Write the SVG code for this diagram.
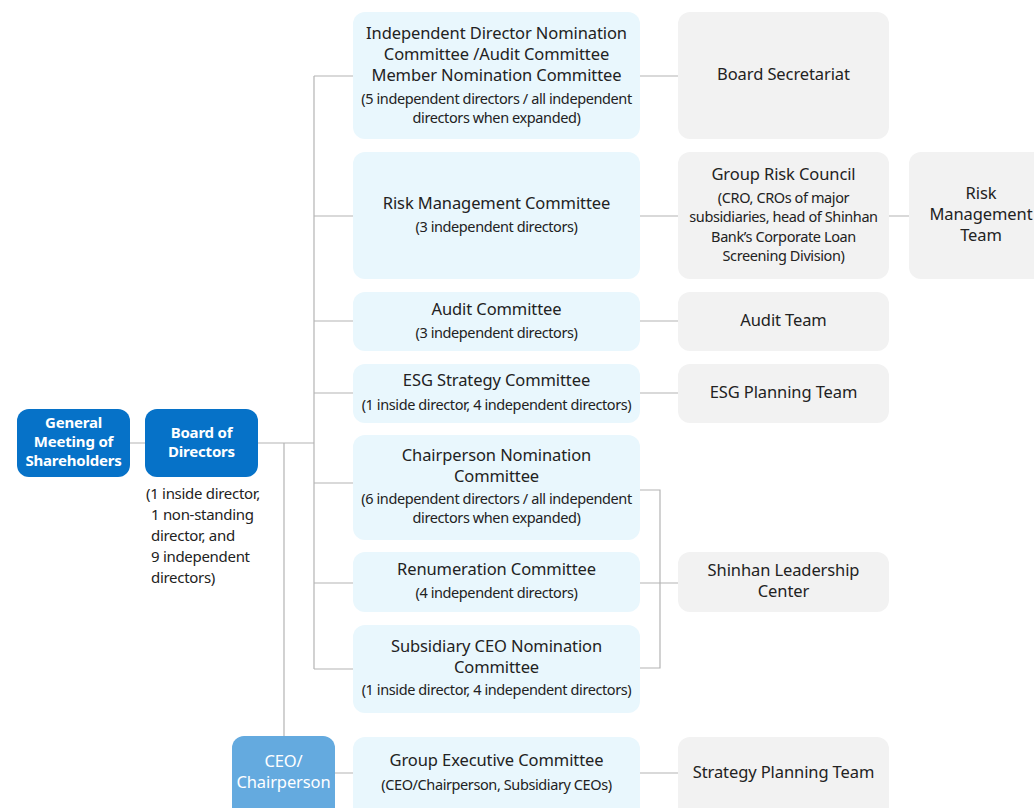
<svg xmlns="http://www.w3.org/2000/svg" width="1034" height="808" viewBox="0 0 1034 808">
<style>
.c{fill:#e9f7fd}
.g{fill:#f2f2f2}
.b{fill:#0672c8}
.t{font-family:"Noto Sans","Liberation Sans",sans-serif;font-size:16.5px;fill:#222;text-anchor:middle;letter-spacing:-0.1px}
.s{font-family:"Noto Sans","Liberation Sans",sans-serif;font-size:14.5px;fill:#222;text-anchor:middle;letter-spacing:-0.4px}
.w{font-family:"Noto Sans","Liberation Sans",sans-serif;font-size:15px;font-weight:bold;fill:#fff;text-anchor:middle;letter-spacing:-0.2px}
.n{font-family:"Noto Sans","Liberation Sans",sans-serif;font-size:15px;fill:#222;letter-spacing:-0.3px}
.ln{stroke:#b4b4b4;stroke-width:1.2;fill:none}
</style>
<rect width="1034" height="808" fill="#fff"/>
<g id="connectors" class="ln">
<path d="M130 443H145M258 443H314M314 76V669M284 443V736"/>
<path d="M314 76H353M314 216H353M314 321H353M314 393H353M314 483H353M314 583H353M314 669H353"/>
<path d="M640 76H678M640 216H678M640 321H678M640 393H678M889 216H909"/>
<path d="M640 490H660V668H640M640 583H678"/>
<path d="M335 773H353M640 773H678"/>
</g>
<g id="gm"><rect class="b" x="17" y="409" width="113" height="68" rx="12"/>
<text class="w" x="73.5" y="428">General</text><text class="w" x="73.5" y="447">Meeting of</text><text class="w" x="73.5" y="466">Shareholders</text></g>
<g id="board"><rect class="b" x="145" y="409" width="113" height="68" rx="12"/>
<text class="w" x="201.5" y="438">Board of</text><text class="w" x="201.5" y="457">Directors</text>
<text class="n" x="146" y="499">(1 inside director,</text><text class="n" x="151" y="520">1 non-standing</text><text class="n" x="151" y="541">director, and</text><text class="n" x="151" y="562">9 independent</text><text class="n" x="151" y="583">directors)</text></g>
<g id="ceo"><rect x="232" y="736" width="103" height="90" rx="12" fill="#64aadf"/>
<text class="t" x="283.5" y="767" style="fill:#fff">CEO/</text><text class="t" x="283.5" y="788" style="fill:#fff">Chairperson</text></g>
<g id="c1"><rect class="c" x="353" y="12" width="287" height="127" rx="12"/>
<text class="t" x="496.5" y="39">Independent Director Nomination</text><text class="t" x="496.5" y="60">Committee /Audit Committee</text><text class="t" x="496.5" y="81">Member Nomination Committee</text>
<text class="s" x="496.5" y="104">(5 independent directors / all independent</text><text class="s" x="496.5" y="123">directors when expanded)</text></g>
<g id="c2"><rect class="c" x="353" y="152" width="287" height="127" rx="12"/>
<text class="t" x="496.5" y="209">Risk Management Committee</text><text class="s" x="496.5" y="232">(3 independent directors)</text></g>
<g id="c3"><rect class="c" x="353" y="292" width="287" height="59" rx="12"/>
<text class="t" x="496.5" y="315">Audit Committee</text><text class="s" x="496.5" y="338">(3 independent directors)</text></g>
<g id="c4"><rect class="c" x="353" y="364" width="287" height="59" rx="12"/>
<text class="t" x="496.5" y="386">ESG Strategy Committee</text><text class="s" x="496.5" y="410">(1 inside director, 4 independent directors)</text></g>
<g id="c5"><rect class="c" x="353" y="435" width="287" height="105" rx="12"/>
<text class="t" x="496.5" y="461">Chairperson Nomination</text><text class="t" x="496.5" y="482">Committee</text>
<text class="s" x="496.5" y="504">(6 independent directors / all independent</text><text class="s" x="496.5" y="523">directors when expanded)</text></g>
<g id="c6"><rect class="c" x="353" y="552" width="287" height="60" rx="12"/>
<text class="t" x="496.5" y="575">Renumeration Committee</text><text class="s" x="496.5" y="598">(4 independent directors)</text></g>
<g id="c7"><rect class="c" x="353" y="625" width="287" height="88" rx="12"/>
<text class="t" x="496.5" y="652">Subsidiary CEO Nomination</text><text class="t" x="496.5" y="673">Committee</text>
<text class="s" x="496.5" y="695">(1 inside director, 4 independent directors)</text></g>
<g id="c8"><rect class="c" x="353" y="737" width="287" height="90" rx="12"/>
<text class="t" x="496.5" y="766">Group Executive Committee</text><text class="s" x="496.5" y="790">(CEO/Chairperson, Subsidiary CEOs)</text></g>
<g id="r1"><rect class="g" x="678" y="12" width="211" height="127" rx="12"/>
<text class="t" x="783.5" y="80">Board Secretariat</text></g>
<g id="r2"><rect class="g" x="678" y="152" width="211" height="127" rx="12"/>
<text class="t" x="783.5" y="180">Group Risk Council</text>
<text class="s" x="783.5" y="203">(CRO, CROs of major</text><text class="s" x="783.5" y="222">subsidiaries, head of Shinhan</text><text class="s" x="783.5" y="242">Bank’s Corporate Loan</text><text class="s" x="783.5" y="261">Screening Division)</text></g>
<g id="r3"><rect class="g" x="678" y="292" width="211" height="59" rx="12"/>
<text class="t" x="783.5" y="326">Audit Team</text></g>
<g id="r4"><rect class="g" x="678" y="364" width="211" height="59" rx="12"/>
<text class="t" x="783.5" y="398">ESG Planning Team</text></g>
<g id="r5"><rect class="g" x="678" y="552" width="211" height="60" rx="12"/>
<text class="t" x="783.5" y="576">Shinhan Leadership</text><text class="t" x="783.5" y="597">Center</text></g>
<g id="r6"><rect class="g" x="678" y="737" width="211" height="90" rx="12"/>
<text class="t" x="783.5" y="778">Strategy Planning Team</text></g>
<g id="rmt"><rect class="g" x="909" y="152" width="140" height="127" rx="12"/>
<text class="t" x="981" y="199">Risk</text><text class="t" x="981" y="220">Management</text><text class="t" x="981" y="241">Team</text></g>
</svg>
